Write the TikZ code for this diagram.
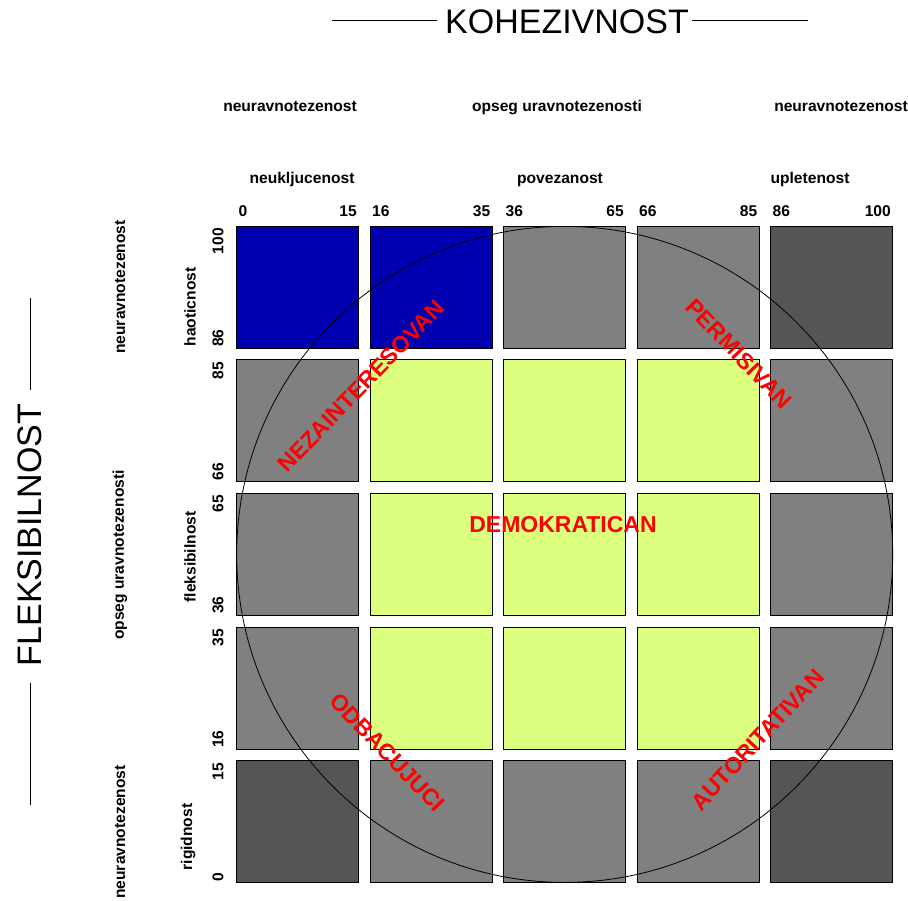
\documentclass[tikz,border=0pt]{standalone}
\usepackage{fontspec}
\setmainfont{Liberation Sans}
\definecolor{cB}{HTML}{0000B0}
\definecolor{cG}{HTML}{808080}
\definecolor{cD}{HTML}{555555}
\definecolor{cY}{HTML}{DDFF80}
\begin{document}
\begin{tikzpicture}[x=1pt,y=-1pt,
  cell/.style={draw=black, line width=0.8pt, minimum width=122pt, minimum height=122pt, anchor=north west, inner sep=0pt, outer sep=0pt},
  small/.style={font=\fontsize{15.6}{15.6}\selectfont\bfseries, inner sep=0pt},
  big/.style={font=\fontsize{34}{34}\selectfont, inner sep=0pt},
  redlab/.style={font=\fontsize{23}{23}\selectfont\bfseries, text=red, inner sep=0pt},
  rulel/.style={line width=0.8pt}]
\useasboundingbox[fill=white] (0,0) rectangle (908,900);

% cells
\foreach \cols [count=\r from 0] in {{cB,cB,cG,cG,cD},{cG,cY,cY,cY,cG},{cG,cY,cY,cY,cG},{cG,cY,cY,cY,cG},{cD,cG,cG,cG,cD}}{
  \foreach \col [count=\i from 0] in \cols {
    \node[cell, fill=\col] (c\r\i) at ({236.7+133.5*\i},{226+133.7*\r}) {};
  }
}

% circle
\node[circle, draw=black, line width=0.8pt, minimum size=656pt, inner sep=0pt, outer sep=0pt] (circ) at (564.7,554.4) {};

% title
\node[big] (koh) at (567,21.5) {KOHEZIVNOST};
\coordinate (kl1) at (332,20.5); \coordinate (kl2) at (437,20.5);
\coordinate (kr1) at (692,20.5); \coordinate (kr2) at (808,20.5);
\draw[rulel] (kl1) -- (kl2);
\draw[rulel] (kr1) -- (kr2);

\node[big, rotate=90] (fle) at (30,535) {FLEKSIBILNOST};
\coordinate (fl1) at (30,298); \coordinate (fl2) at (30,390);
\coordinate (fl3) at (30,683); \coordinate (fl4) at (30,805);
\draw[rulel] (fl1) -- (fl2);
\draw[rulel] (fl3) -- (fl4);

% top labels
\node[small, anchor=base] (t1) at (290,111) {neuravnotezenost};
\node[small, anchor=base] (t2) at (557,111) {opseg uravnotezenosti};
\node[small, anchor=base] (t3) at (841,111) {neuravnotezenost};
\node[small, anchor=base] (t4) at (302,183) {neukljucenost};
\node[small, anchor=base] (t5) at (560,183) {povezanost};
\node[small, anchor=base] (t6) at (810,183) {upletenost};

% column numbers
\node[small, anchor=base west] (n0) at (238.5,216) {0};
\node[small, anchor=base east] (n15) at (357,216) {15};
\node[small, anchor=base west] (n16) at (372,216) {16};
\node[small, anchor=base east] (n35) at (490.5,216) {35};
\node[small, anchor=base west] (n36) at (505.5,216) {36};
\node[small, anchor=base east] (n65) at (624,216) {65};
\node[small, anchor=base west] (n66) at (639,216) {66};
\node[small, anchor=base east] (n85) at (757.5,216) {85};
\node[small, anchor=base west] (n86) at (772.5,216) {86};
\node[small, anchor=base east] (n100) at (891,216) {100};

% left labels
\node[small, rotate=90] (l1) at (120,287) {neuravnotezenost};
\node[small, rotate=90] (l2) at (120,555) {opseg uravnotezenosti};
\node[small, rotate=90] (l3) at (120,832) {neuravnotezenost};
\node[small, rotate=90] (l4) at (190,307) {haoticnost};
\node[small, rotate=90] (l5) at (190,557) {fleksibilnost};
\node[small, rotate=90] (l6) at (188,837) {rigidnost};

% row numbers
\node[small, rotate=90, anchor=east] (r100) at (218,228) {100};
\node[small, rotate=90, anchor=west] (r86) at (218,347) {86};
\node[small, rotate=90, anchor=east] (r85) at (218,361.5) {85};
\node[small, rotate=90, anchor=west] (r66) at (218,480.5) {66};
\node[small, rotate=90, anchor=east] (r65) at (218,495) {65};
\node[small, rotate=90, anchor=west] (r36) at (218,614) {36};
\node[small, rotate=90, anchor=east] (r35) at (218,629) {35};
\node[small, rotate=90, anchor=west] (r16) at (218,748) {16};
\node[small, rotate=90, anchor=east] (r15) at (218,762.5) {15};
\node[small, rotate=90, anchor=west] (r0) at (218,881.5) {0};

% style labels
\node[redlab, rotate=46] (nez) at (361,386) {NEZAINTERESOVAN};
\node[redlab, rotate=-46] (per) at (739,354) {PERMISIVAN};
\node[redlab] (dem) at (563,525) {DEMOKRATICAN};
\node[redlab, rotate=-46] (odb) at (387.5,752.5) {ODBACUJUCI};
\node[redlab, rotate=47] (aut) at (757.5,740) {AUTORITATIVAN};
\end{tikzpicture}
\end{document}
